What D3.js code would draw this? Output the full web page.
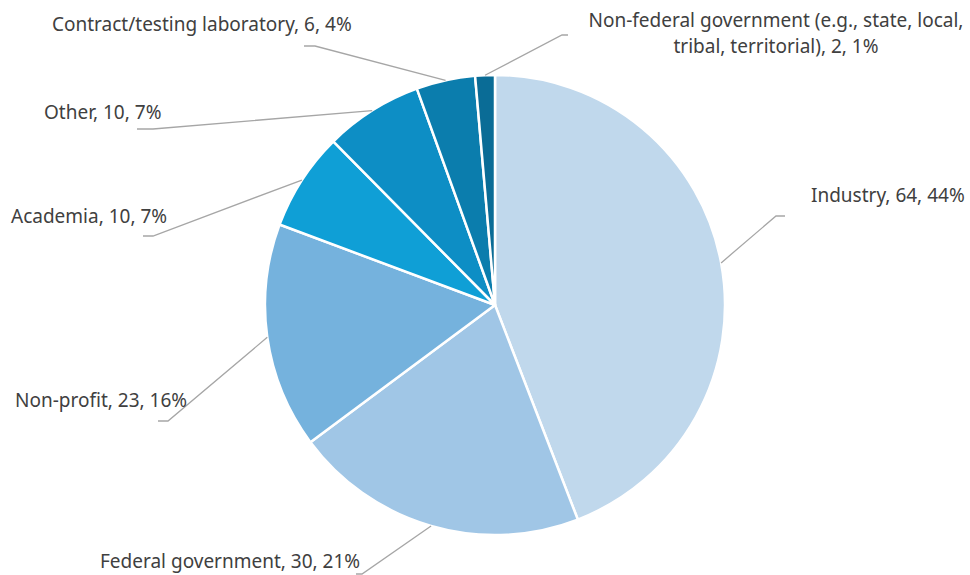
<!DOCTYPE html>
<html>
<head>
<meta charset="utf-8">
<script src="https://cdn.jsdelivr.net/npm/d3@7/dist/d3.min.js"></script>
<style>
  html, body { margin: 0; padding: 0; background: #fff; }
  svg { display: block; }
</style>
</head>
<body>
<svg id="chart" width="970" height="575"></svg>
<script>
const categories = [
  "Industry",
  "Federal government",
  "Non-profit",
  "Academia",
  "Other",
  "Contract/testing laboratory",
  "Non-federal government (e.g., state, local, tribal, territorial)"
];
const values = [64, 30, 23, 10, 10, 6, 2];
const percentLabels = ["44%", "21%", "16%", "7%", "7%", "4%", "1%"];
const colors = ["#C0D8EC", "#A0C6E6", "#75B2DD", "#0F9FD6", "#0D8EC5", "#0B7DAD", "#0A6C96"];

// label layout: text lines, anchor, text position, elbow, end of leader
const labelLayout = [
  { lines: ["Industry, 64, 44%"], x: 811, y: 202, anchor: "start", elbow: [776, 216], end: [785, 216] },
  { lines: ["Federal government, 30, 21%"], x: 100, y: 568, anchor: "start", elbow: [362, 574], end: [356, 574] },
  { lines: ["Non-profit, 23, 16%"], x: 15, y: 407, anchor: "start", elbow: [168, 421], end: [158, 421] },
  { lines: ["Academia, 10, 7%"], x: 11, y: 223, anchor: "start", elbow: [153, 236], end: [143, 236] },
  { lines: ["Other, 10, 7%"], x: 44, y: 119, anchor: "start", elbow: [153, 129], end: [137, 129] },
  { lines: ["Contract/testing laboratory, 6, 4%"], x: 52, y: 31, anchor: "start", elbow: [315, 46], end: [304, 46] },
  { lines: ["Non-federal government (e.g., state, local,", "tribal, territorial), 2, 1%"], x: 776, y: 27, anchor: "middle", elbow: [562, 35], end: [568, 35] }
];

const data = categories.map((c, i) => ({ name: c, value: values[i], pct: percentLabels[i], color: colors[i], layout: labelLayout[i] }));

const svg = d3.select("#chart");
const cx = 495, cy = 305, r = 230;
const g = svg.append("g").attr("transform", `translate(${cx},${cy})`);

const pie = d3.pie().value(d => d.value).sort(null);
const arc = d3.arc().innerRadius(0).outerRadius(r);
const arcs = pie(data);

g.selectAll("path.slice")
  .data(arcs)
  .join("path")
  .attr("class", "slice")
  .attr("d", arc)
  .attr("fill", d => d.data.color)
  .attr("stroke", "#fff")
  .attr("stroke-width", 2.5)
  .attr("stroke-linejoin", "round");

// leader lines
arcs.forEach(a => {
  const mid = (a.startAngle + a.endAngle) / 2;
  const sx = cx + r * Math.sin(mid);
  const sy = cy - r * Math.cos(mid);
  const L = a.data.layout;
  svg.append("polyline")
    .attr("points", `${sx},${sy} ${L.elbow[0]},${L.elbow[1]} ${L.end[0]},${L.end[1]}`)
    .attr("fill", "none")
    .attr("stroke", "#A6A6A6")
    .attr("stroke-width", 1.3);
});

// labels
arcs.forEach(a => {
  const L = a.data.layout;
  const t = svg.append("text")
    .attr("x", L.x)
    .attr("y", L.y)
    .attr("text-anchor", L.anchor)
    .attr("font-family", "'Noto Sans', 'Open Sans', sans-serif")
    .attr("font-size", 19)
    .attr("fill", "#404040");
  L.lines.forEach((ln, i) => {
    t.append("tspan").attr("x", L.x).attr("dy", i === 0 ? 0 : 26).text(ln);
  });
});
</script>
</body>
</html>
